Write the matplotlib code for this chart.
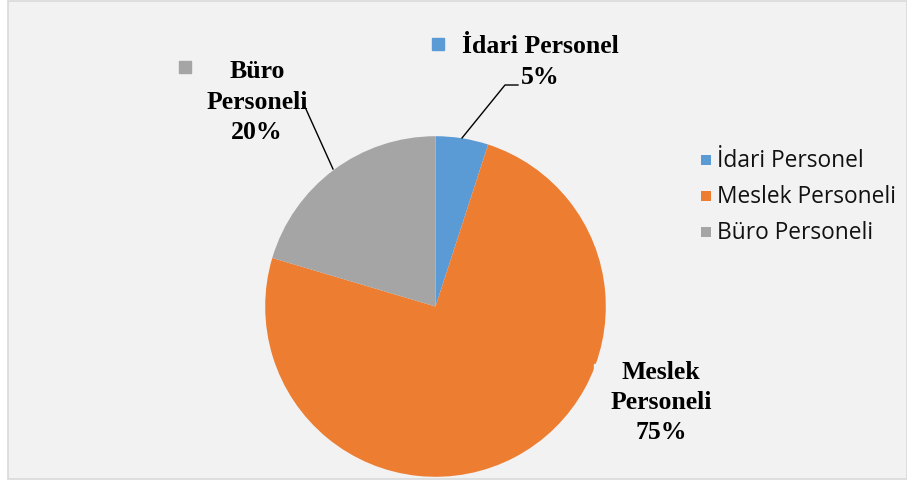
import matplotlib
matplotlib.use("Agg")
import matplotlib.pyplot as plt
from matplotlib.patches import Rectangle

categories = ["İdari Personel", "Meslek Personeli", "Büro Personeli"]
values = [5.0, 74.6, 20.4]
colors = ["#5B9BD5", "#ED7D31", "#A5A5A5"]
pct_labels = ["5%", "75%", "20%"]

W, H = 907, 481
fig = plt.figure(figsize=(W / 100, H / 100), dpi=100, facecolor="white")

# background panel
fig.patches.append(Rectangle((8 / W, 1 / H), (W - 8) / W, (H - 3) / H,
                             transform=fig.transFigure, facecolor="#F2F2F2",
                             edgecolor="#D9D9D9", linewidth=1.2, zorder=-10))

cx, cy, R = 435.5, 307.5, 170.3
ax = fig.add_axes([(cx - R) / W, (H - cy - R) / H, 2 * R / W, 2 * R / H])
ax.set_zorder(5)
ax.pie(values, colors=colors, startangle=90, counterclock=False, radius=1,
       wedgeprops=dict(linewidth=0))
ax.patch.set_visible(False)
ax.set_xlim(-1, 1)
ax.set_ylim(-1, 1)
ax.set_aspect("equal")
ax.axis("off")


def d(px, py):
    return ((px - cx) / R, (cy - py) / R)


serif = dict(family="Liberation Serif", fontweight="bold", fontsize=18.5, color="black")

# data labels
ax.text(*d(540, 47), categories[0], ha="center", va="center", **serif)
ax.text(*d(540, 78), pct_labels[0], ha="center", va="center", **serif)
ax.plot(*d(438, 45), marker="s", ms=8, color=colors[0], clip_on=False)
ax.plot([d(462, 139)[0], d(505, 86)[0], d(518, 86)[0]],
        [d(462, 139)[1], d(505, 86)[1], d(518, 86)[1]],
        color="black", lw=1, clip_on=False)

ax.text(*d(257, 72), "Büro", ha="center", va="center", **serif)
ax.text(*d(257, 103), "Personeli", ha="center", va="center", **serif)
ax.text(*d(257, 133), pct_labels[2], ha="center", va="center", **serif)
ax.plot(*d(185, 68), marker="s", ms=8, color=colors[2], clip_on=False)
ax.plot([d(305, 108)[0], d(333, 170)[0]], [d(305, 108)[1], d(333, 170)[1]],
        color="black", lw=1, clip_on=False)

ax.text(*d(661, 373), "Meslek", ha="center", va="center", **serif)
ax.text(*d(661, 403), "Personeli", ha="center", va="center", **serif)
ax.text(*d(661, 433), pct_labels[1], ha="center", va="center", **serif)
ax.plot(*d(598, 369), marker="s", ms=6, color="#F2F2F2", clip_on=False)

# legend
sans = dict(family="Open Sans", fontsize=16.4, color="#111111")
for i, (cat, col) in enumerate(zip(categories, colors)):
    py = 161 + 36 * i
    fig.patches.append(Rectangle((701 / W, (H - py - 5) / H), 10 / W, 10 / H,
                                 transform=fig.transFigure, facecolor=col,
                                 edgecolor="none"))
    fig.text(717 / W, (H - py) / H, cat, ha="left", va="center", **sans)

fig.savefig("out.png", dpi=100, facecolor="white")
